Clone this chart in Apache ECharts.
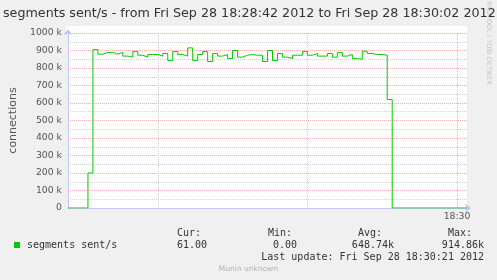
<!DOCTYPE html>
<html>
<head>
<meta charset="utf-8">
<script src="https://cdn.jsdelivr.net/npm/echarts@6/dist/echarts.min.js"></script>
<style>
html,body{margin:0;padding:0;background:#f0f0f0;}
#c{width:497px;height:280px;}
</style>
</head>
<body>
<div id="c"></div>
<script>
// ---- data ----
const titleText = 'segments sent/s - from Fri Sep 28 18:28:42 2012 to Fri Sep 28 18:30:02 2012';
const startHour = 18, startMin = 28, startSec = 42;
// seconds after 18:28:42, one sample per second
const seconds = [];
for (let s = 0; s <= 80; s++) seconds.push(s);
// segments sent/s in thousands, one per second
const sentK = [
  0, 0, 0, 0, 200, 905, 879, 889, 889, 879,
  889, 868, 862, 894, 873, 862, 877, 877, 868, 883,
  843, 894, 877, 868, 915, 843, 877, 894, 837, 883,
  868, 877, 854, 900, 862, 873, 877, 873, 873, 837,
  900, 843, 883, 862, 854, 873, 873, 894, 873, 883,
  868, 868, 883, 862, 889, 868, 877, 854, 850, 896,
  883, 877, 877, 873, 620, 0, 0, 0, 0, 0,
  0, 0, 0, 0, 0, 0, 0, 0, 0, 0, 0.061
];
const seriesName = 'segments sent/s';
const yAxisName = 'connections';
const minorGridSeconds = [18, 48];   // 18:29:00, 18:29:30
const majorGridSeconds = [78];       // 18:30:00
const statHeaders = ['Cur:', 'Min:', 'Avg:', 'Max:'];
const statValues = ['61.00', '0.00', '648.74k', '914.86k'];
const lastUpdate = 'Last update: Fri Sep 28 18:30:21 2012';
const footer = 'Munin unknown';
const watermark = 'RRDTOOL / TOBI OETIKER';

// ---- chart ----
const sentData = seconds.map((s, i) => [s, sentK[i]]);
function secLabel(v) {
  const tot = startHour * 3600 + startMin * 60 + startSec + v;
  const h = Math.floor(tot / 3600), m = Math.floor((tot % 3600) / 60);
  return String(h).padStart(2, '0') + ':' + String(m).padStart(2, '0');
}
const SANS = 'DejaVu Sans';
const MONO = 'DejaVu Sans Mono';
const headerX = [177, 268, 358, 448];
const valueRight = [207, 297, 394, 484];
const majorCol = '#f0b4b4';
const minorCol = '#d2d2d2';
const graphics = [
  {type: 'rect', z: -1, shape: {x: 66, y: 26, width: 401, height: 8}, style: {fill: '#ffffff'}},
  {type: 'text', x: 489, y: 1, rotation: -Math.PI / 2, z: -2,
   style: {text: watermark, font: '6.5px ' + SANS, fill: '#c4c4c4', textAlign: 'left', textVerticalAlign: 'middle'}},
  {type: 'text', left: 'center', top: 265, style: {text: footer, font: '7.5px ' + SANS, fill: '#b4b4b4'}},
  {type: 'text', x: 484, y: 257.5, style: {text: lastUpdate, font: '10px ' + MONO, fill: '#333', textAlign: 'right', textVerticalAlign: 'middle'}}
];
statHeaders.forEach((h, i) => {
  graphics.push({type: 'text', x: headerX[i], y: 233.5,
    style: {text: h, font: '10px ' + MONO, fill: '#333', textAlign: 'left', textVerticalAlign: 'middle'}});
  graphics.push({type: 'text', x: valueRight[i], y: 245.5,
    style: {text: statValues[i], font: '10px ' + MONO, fill: '#333', textAlign: 'right', textVerticalAlign: 'middle'}});
});

const axisCol = '#c4c4f4';
const chart = echarts.init(document.getElementById('c'), null, {renderer: 'canvas'});
chart.setOption({
  backgroundColor: '#f0f0f0',
  animation: false,
  title: {
    text: titleText, left: 3, top: 7, padding: 0,
    textStyle: {fontFamily: SANS, fontSize: 12.7, fontWeight: 'normal', color: '#333'}
  },
  legend: {
    data: [{name: seriesName, icon: 'rect'}],
    left: 14, top: 240, padding: 0,
    itemWidth: 6, itemHeight: 6,
    textStyle: {fontFamily: MONO, fontSize: 10, color: '#333', padding: [0, 0, 0, 2]}
  },
  grid: {left: 66, right: 30, top: 33, bottom: 72, show: true, backgroundColor: '#ffffff', borderWidth: 0},
  xAxis: {
    type: 'value', min: 0, max: 80, interval: 6,
    axisLine: {show: true, lineStyle: {color: axisCol, width: 1}, symbol: ['none', 'arrow'], symbolSize: [7, 6], symbolOffset: [0, 4]},
    axisTick: {show: false},
    splitLine: {show: false},
    axisLabel: {
      margin: 4, fontFamily: SANS, fontSize: 9.3, color: '#555',
      formatter: v => (majorGridSeconds.indexOf(v) >= 0 ? secLabel(v) : '')
    }
  },
  yAxis: {
    type: 'value', min: 0, max: 1000, interval: 100,
    name: yAxisName, nameLocation: 'middle', nameGap: 49, nameRotate: 90,
    nameTextStyle: {fontFamily: SANS, fontSize: 11, color: '#555'},
    axisLine: {show: true, lineStyle: {color: axisCol, width: 1}, symbol: ['none', 'arrow'], symbolSize: [7, 6], symbolOffset: [0, 4]},
    axisTick: {show: false},
    axisLabel: {
      margin: 6, fontFamily: SANS, fontSize: 9.3, color: '#555',
      formatter: v => (v === 0 ? '0' : v + ' k')
    },
    splitLine: {show: true, lineStyle: {color: majorCol, type: [1, 1], width: 1}},
    minorTick: {show: false, splitNumber: 2},
    minorSplitLine: {show: true, lineStyle: {color: minorCol, type: [1, 1], width: 1}}
  },
  series: [{
    name: seriesName, type: 'line', step: 'end', data: sentData,
    showSymbol: false, symbol: 'none',
    color: '#00cc00',
    lineStyle: {color: '#00cc00', width: 1},
    z: 5,
    markLine: {
      silent: true, symbol: ['none', 'none'], label: {show: false},
      data: minorGridSeconds.map(s => ({xAxis: s, lineStyle: {color: minorCol, type: [1, 1], width: 1}}))
        .concat(majorGridSeconds.map(s => ({xAxis: s, lineStyle: {color: majorCol, type: [1, 1], width: 1}})))
    }
  }],
  graphic: graphics
});
</script>
</body>
</html>
